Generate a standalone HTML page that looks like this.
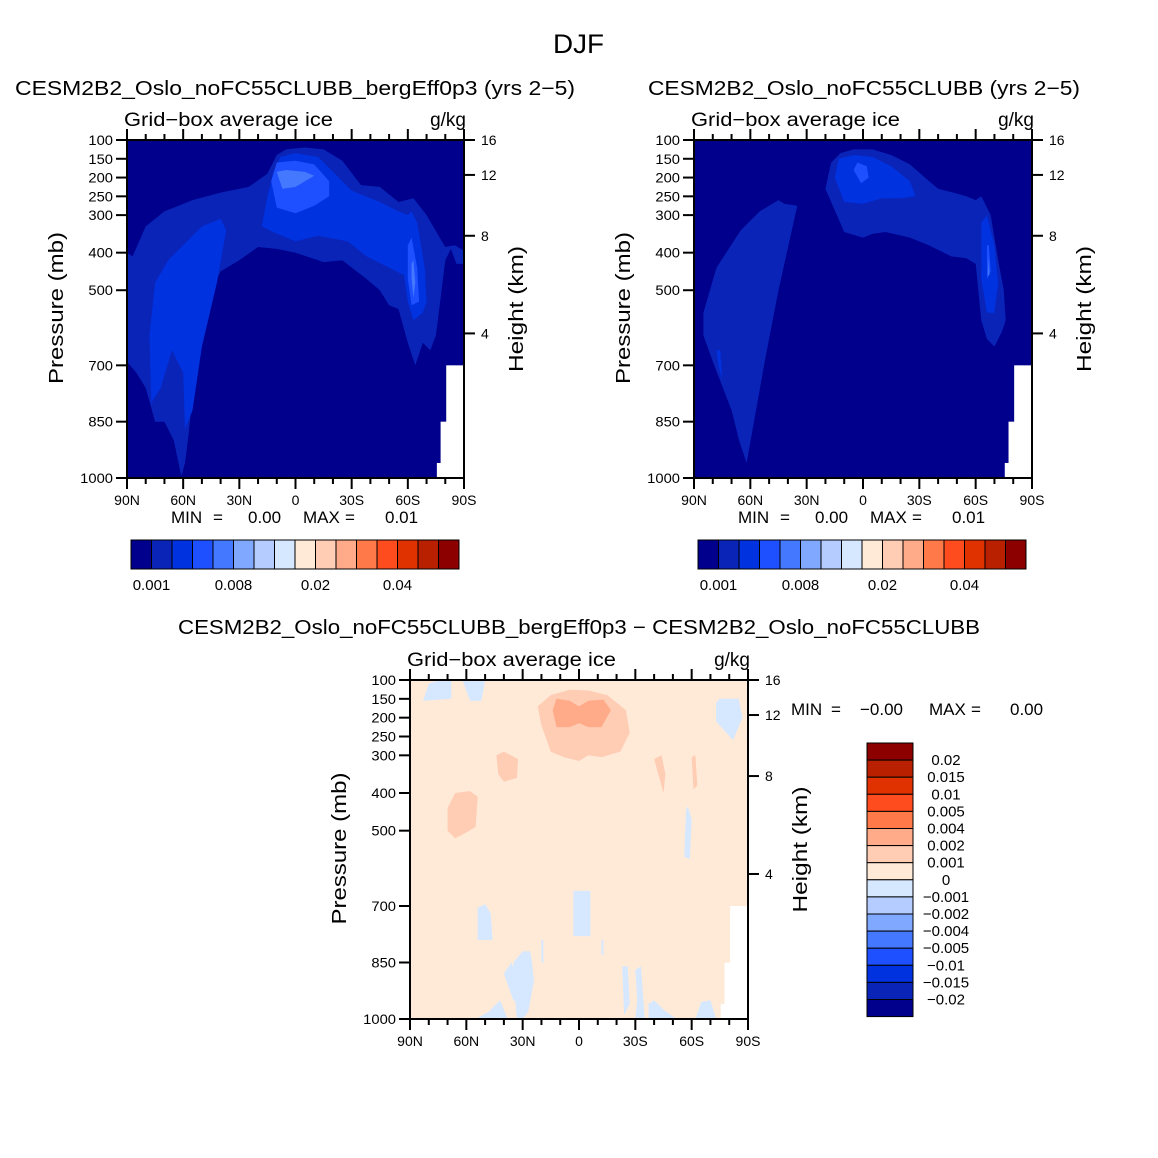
<!DOCTYPE html>
<html><head><meta charset="utf-8"><style>
html,body{margin:0;padding:0;background:#fff;}
svg{display:block;font-family:"Liberation Sans","DejaVu Sans",sans-serif;}
</style></head><body>
<svg id="fig" width="1158" height="1158" viewBox="0 0 1158 1158">
<text x="553" y="53" font-size="27" textLength="51" lengthAdjust="spacingAndGlyphs">DJF</text>
<text x="15" y="95" font-size="20" textLength="560" lengthAdjust="spacingAndGlyphs">CESM2B2_Oslo_noFC55CLUBB_bergEff0p3 (yrs 2−5)</text>
<text x="648" y="95" font-size="20" textLength="432" lengthAdjust="spacingAndGlyphs">CESM2B2_Oslo_noFC55CLUBB (yrs 2−5)</text>
<text x="178" y="634" font-size="20" textLength="802" lengthAdjust="spacingAndGlyphs">CESM2B2_Oslo_noFC55CLUBB_bergEff0p3 − CESM2B2_Oslo_noFC55CLUBB</text>
<g id="p1"></g>
<g id="p2"></g>
<g id="p3"></g>
<g id="cb"></g>
</svg>
<script>
const NS="http://www.w3.org/2000/svg";
const pTicks=[100,150,200,250,300,400,500,700,850,1000];
const latTicks=[90,60,30,0,-30,-60,-90];
const latLabels=["90N","60N","30N","0","30S","60S","90S"];
const hTicks=[16,12,8,4];
const hTickP=[100,193,355,615];
const seqColors=["#00008C","#0A24B8","#0032E0","#1E50FF","#4478FF","#80A8FF","#B4CCFF","#D6E8FF","#FFEAD8","#FFCCB4","#FFAA88","#FF7A48","#FF4C1E","#E03200","#B82000","#8C0000"];
const seqLabels=["0.001","0.008","0.02","0.04"];
const diffLabels=["0.02","0.015","0.01","0.005","0.004","0.002","0.001","0","−0.001","−0.002","−0.004","−0.005","−0.01","−0.015","−0.02"];
const p1Regions=[
 [1,[[90,690],[90,400],[87,410],[80,330],[70,290],[55,260],[40,240],[25,225],[15,190],[10,140],[5,125],[-5,120],[-15,125],[-25,155],[-35,220],[-45,225],[-55,265],[-63,255],[-70,300],[-77,360],[-80,385],[-85,380],[-90,395],[-90,430],[-86,430],[-83,390],[-80,420],[-77,540],[-75,620],[-72,660],[-68,640],[-64,700],[-60,640],[-55,550],[-50,540],[-45,500],[-38,470],[-25,420],[-15,425],[0,400],[10,390],[20,385],[30,420],[40,450],[45,500],[52,660],[55,780],[57,880],[59,960],[61,995],[65,900],[70,850],[75,850],[80,760],[85,720]]],
 [2,[[77,800],[78,620],[75,480],[68,420],[60,380],[50,330],[40,310],[37,340],[42,480],[50,650],[55,820],[59,870],[60,720],[66,660],[72,760]]],
 [2,[[18,330],[15,250],[12,190],[8,145],[0,135],[-12,145],[-20,185],[-30,235],[-45,265],[-55,290],[-60,300],[-62,290],[-65,320],[-69,440],[-70,530],[-68,560],[-63,580],[-60,530],[-58,460],[-48,435],[-38,410],[-28,370],[-12,355],[0,370],[12,345]]],
 [3,[[13,210],[10,160],[0,155],[-10,165],[-18,210],[-18,250],[-10,275],[0,295],[10,280]]],
 [3,[[-60,380],[-62,360],[-65,440],[-66,530],[-62,540],[-60,470]]],
 [4,[[10,185],[5,180],[-5,185],[-10,195],[-5,210],[0,225],[7,230]]],
 [4,[[-62,430],[-63,420],[-64,480],[-63,520],[-62,470]]]
];
const p2Regions=[
 [1,[[85,560],[78,440],[65,340],[55,290],[45,260],[42,270],[35,275],[37,320],[45,500],[52,680],[57,820],[62,960],[66,900],[70,820],[80,690],[85,620]]],
 [2,[[77,700],[78,660],[76,660],[75,740]]],
 [1,[[20,230],[17,160],[12,135],[5,125],[-5,125],[-15,140],[-25,165],[-33,200],[-40,230],[-48,240],[-55,250],[-60,260],[-63,250],[-68,300],[-72,420],[-75,500],[-76,580],[-74,610],[-70,650],[-66,630],[-63,580],[-60,430],[-55,415],[-47,410],[-35,380],[-25,360],[-12,345],[-5,350],[0,360],[10,345]]],
 [2,[[15,200],[13,150],[5,140],[-5,145],[-15,170],[-25,210],[-28,250],[-20,255],[-10,255],[0,270],[10,265]]],
 [2,[[-63,320],[-66,300],[-70,380],[-72,480],[-70,560],[-66,560],[-63,470]]],
 [3,[[5,180],[3,160],[-2,170],[-3,200],[1,215]]],
 [3,[[-66,380],[-67,380],[-68,450],[-66,470]]],
 [4,[[-67,410],[-66.5,460],[-67.3,460]]]
];
const p3Regions=[
 [9,[[20,220],[22,170],[15,140],[5,126],[-5,128],[-15,140],[-25,180],[-27,240],[-22,290],[-12,305],[-5,300],[0,315],[8,305],[15,290]]],
 [10,[[14,180],[12,150],[5,155],[0,170],[-5,155],[-13,152],[-17,180],[-12,225],[-5,225],[0,215],[5,225],[12,225]]],
 [9,[[44,300],[40,290],[32.5,310],[33,360],[40,370],[43,350]]],
 [9,[[70,440],[66,400],[58,395],[54,410],[55,490],[60,505],[66,520],[70,500]]],
 [9,[[-40,310],[-44,300],[-46,350],[-45,400]]],
 [9,[[-60,305],[-62,300],[-63,380],[-61,390]]],
 [7,[[83,155],[80,110],[75,102],[68,102],[68,150]]],
 [7,[[62,102],[50,102],[52,155],[58,155]]],
 [7,[[-73,160],[-75,150],[-85,150],[-87,200],[-82,260],[-73,210]]],
 [7,[[-90,240],[-89,250],[-90,260]]],
 [7,[[-57,445],[-58,435],[-60,470],[-59,575],[-56,570]]],
 [7,[[3,660],[-6,660],[-6,780],[3,780]]],
 [7,[[54,705],[50,695],[47,720],[46,790],[54,790]]],
 [7,[[20,790],[19,790],[19,850],[20,850]]],
 [7,[[-13,790],[-12,790],[-12,830],[-13,830]]],
 [7,[[35,850],[30,820],[26,820],[25,850],[24,900],[27,980],[30,1000],[33,1000],[34,950]]],
 [7,[[40,880],[36,850],[32,900],[31,960],[35,950]]],
 [7,[[70,1000],[55,1000],[48,980],[42,950],[38,1000]]],
 [7,[[-23,860],[-26,860],[-27,960],[-24,990]]],
 [7,[[-30,870],[-33,860],[-35,1000],[-30,1000],[-31,950]]],
 [7,[[-37,960],[-40,950],[-45,975],[-52,1000],[-37,1000]]],
 [7,[[-62,1000],[-65,955],[-70,950],[-73,1000]]]
];
const bottomMask=[[-80.5,700],[-77.5,850],[-75.5,960]];

function el(parent,tag,attrs,text){const e=document.createElementNS(NS,tag);for(const k in attrs)e.setAttribute(k,attrs[k]);if(text!==undefined)e.textContent=text;parent.appendChild(e);return e;}

function drawPanel(gid,L,T,W,H,bg,regions,isDiff){
  const g=document.getElementById(gid);
  const xs=lat=>L+(90-lat)/180*W;
  const ys=p=>T+(p-100)/900*H;
  const bgRect=el(g,'rect',{x:L,y:T,width:W,height:H,fill:bg});
  
  
  regions.forEach(r=>{
    const pts=r[1].map(q=>xs(q[0]).toFixed(1)+','+ys(q[1]).toFixed(1)).join(' ');
    const poly=el(g,'polygon',{points:pts,fill:seqColors[r[0]]});
    
    
  });
  bottomMask.forEach(m=>{
    const r=el(g,'rect',{x:xs(m[0]),y:ys(m[1]),width:L+W-xs(m[0]),height:T+H-ys(m[1]),fill:'#fff'});
    
    
  });
  const fr=el(g,'rect',{x:L,y:T,width:W,height:H,fill:'none',stroke:'#000','stroke-width':2});
  
  
  pTicks.forEach(p=>{
    el(g,'line',{x1:L-11,x2:L,y1:ys(p),y2:ys(p),stroke:'#000','stroke-width':2});
    const s=String(p);
    const t=el(g,'text',{x:L-14,y:ys(p)+5,'font-size':14,'text-anchor':'end',textLength:s.length*8.2,lengthAdjust:'spacingAndGlyphs'},s);
    
    
  });
  hTicks.forEach((h,i)=>{
    const y=ys(hTickP[i]);
    el(g,'line',{x1:L+W,x2:L+W+11,y1:y,y2:y,stroke:'#000','stroke-width':2});
    const t=el(g,'text',{x:L+W+17,y:y+5,'font-size':14},String(h));
    
    
  });
  for(let lat=90;lat>=-90;lat-=10){
    const major=lat%30===0;
    const len=major?11:6;
    el(g,'line',{x1:xs(lat),x2:xs(lat),y1:T+H,y2:T+H+len,stroke:'#000','stroke-width':2});
    el(g,'line',{x1:xs(lat),x2:xs(lat),y1:T,y2:T-len,stroke:'#000','stroke-width':2});
  }
  latTicks.forEach((lat,i)=>{
    const t=el(g,'text',{x:xs(lat),y:T+H+27,'font-size':14,'text-anchor':'middle'},latLabels[i]);
    
    
  });
  let t=el(g,'text',{x:L-3,y:T-14,'font-size':19,textLength:209,lengthAdjust:'spacingAndGlyphs'},'Grid−box average ice');
  
  
  t=el(g,'text',{x:L+W+2,y:T-14,'font-size':19,'text-anchor':'end'},'g/kg');
  
  
  t=el(g,'text',{x:0,y:0,'font-size':20,'text-anchor':'middle',textLength:152,lengthAdjust:'spacingAndGlyphs',transform:`translate(${L-64},${T+H/2-1}) rotate(-90)`},'Pressure (mb)');
  
  
  t=el(g,'text',{x:0,y:0,'font-size':20,'text-anchor':'middle',textLength:126,lengthAdjust:'spacingAndGlyphs',transform:`translate(${L+W+59},${T+H/2}) rotate(-90)`},'Height (km)');
  
  
  if(!isDiff){
    const y=T+H+45;
    [['MIN',44],['=',86],['0.00',121],['MAX',176],['=',218],['0.01',258]].forEach(a=>{
      const tt=el(g,'text',{x:L+a[1],y:y,'font-size':17},a[0]);
      
      
    });
  }
}
drawPanel('p1',127,140,337,338,seqColors[0],p1Regions,false);
drawPanel('p2',694,140,338,338,seqColors[0],p2Regions,false);
drawPanel('p3',410,680,338,339,seqColors[8],p3Regions,true);
{
  const g=document.getElementById('p3');
  [['MIN',791],['=',831],['−0.00',860],['MAX',929],['=',971],['0.00',1010]].forEach(a=>{
    const t=el(g,'text',{x:a[1],y:715,'font-size':17},a[0]);
    
    
  });
}
const cbg=document.getElementById('cb');
[[131,540],[698,540]].forEach(pos=>{
  const bw=20.5,bh=29;
  seqColors.forEach((c,i)=>{
    const r=el(cbg,'rect',{x:pos[0]+i*bw,y:pos[1],width:bw,height:bh,fill:c,stroke:'#000','stroke-width':1});
    
    
  });
  seqLabels.forEach((lab,i)=>{
    const t=el(cbg,'text',{x:pos[0]+(1+4*i)*bw,y:pos[1]+50,'font-size':15,'text-anchor':'middle'},lab);
    
    
  });
});
{
  const x=867,y0=743,bw=46,bh=17.1;
  seqColors.slice().reverse().forEach((c,i)=>{
    const r=el(cbg,'rect',{x:x,y:y0+i*bh,width:bw,height:bh,fill:c,stroke:'#000','stroke-width':1});
    
    
  });
  diffLabels.forEach((lab,i)=>{
    const t=el(cbg,'text',{x:946,y:y0+(i+1)*bh+5,'font-size':15,'text-anchor':'middle'},lab);
    
    
  });
}
</script>
</body></html>
